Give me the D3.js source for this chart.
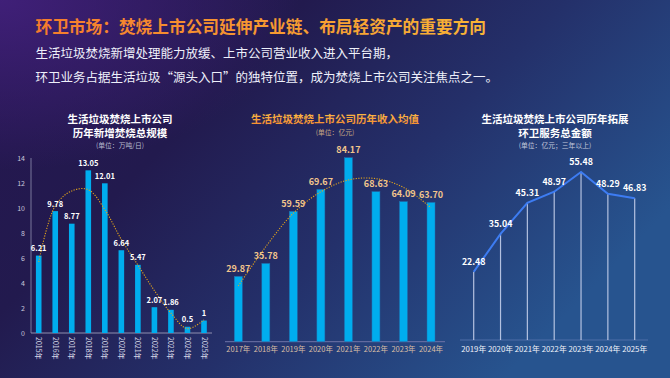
<!DOCTYPE html>
<html><head><meta charset="utf-8">
<script src="https://cdn.jsdelivr.net/npm/d3@7"></script>
<style>html,body{margin:0;padding:0;background:#221a4e;}svg{display:block;}</style>
</head><body>
<svg id="c" width="670" height="378"></svg>
<script>
// ---- data ----
const headerTitle = "环卫市场：焚烧上市公司延伸产业链、布局轻资产的重要方向";
const headerLines = ["生活垃圾焚烧新增处理能力放缓、上市公司营业收入进入平台期，",
  "环卫业务占据生活垃圾“源头入口”的独特位置，成为焚烧上市公司关注焦点之一。"];

const leftTitle = ["生活垃圾焚烧上市公司", "历年新增焚烧总规模"];
const leftUnit = "(单位：万吨/日)";
const leftYears = ["2015年","2016年","2017年","2018年","2019年","2020年","2021年","2022年","2023年","2024年","2025年"];
const leftValues = [6.21, 9.78, 8.77, 13.05, 12.01, 6.64, 5.47, 2.07, 1.86, 0.5, 1];
const leftLabels = ["6.21","9.78","8.77","13.05","12.01","6.64","5.47","2.07","1.86","0.5","1"];
const leftTrend = [5.7, 10.2, 11.4, 11.5, 9.9, 7.5, 5.45, 3.4, 1.6, 0.35, 1.05];
const leftTicks = [0, 2, 4, 6, 8, 10, 12, 14];

const midTitle = "生活垃圾焚烧上市公司历年收入均值";
const midUnit = "(单位：亿元)";
const midYears = ["2017年","2018年","2019年","2020年","2021年","2022年","2023年","2024年"];
const midValues = [29.87, 35.78, 59.59, 69.67, 84.17, 68.63, 64.09, 63.70];
const midLabels = ["29.87","35.78","59.59","69.67","84.17","68.63","64.09","63.70"];
const midTrend = [25.5, 43.5, 58.8, 68.6, 74.0, 74.6, 70.6, 61.2];

const rightTitle = ["生活垃圾焚烧上市公司历年拓展", "环卫服务总金额"];
const rightUnit = "(单位：亿元；三年以上)";
const rightYears = ["2019年","2020年","2021年","2022年","2023年","2024年","2025年"];
const rightValues = [22.48, 35.04, 45.31, 48.97, 55.48, 48.29, 46.83];
const rightLabels = ["22.48","35.04","45.31","48.97","55.48","48.29","46.83"];

// ---- drawing ----
const FONT = "'Noto Sans CJK SC','Noto Sans',sans-serif";
const svg = d3.select("#c");
const defs = svg.append("defs");

const bg = defs.append("linearGradient").attr("id","bg").attr("x1","0").attr("y1","0").attr("x2","1").attr("y2","0.55");
bg.append("stop").attr("offset","0").attr("stop-color","#261650");
bg.append("stop").attr("offset","0.35").attr("stop-color","#221a4e");
bg.append("stop").attr("offset","0.65").attr("stop-color","#24306a");
bg.append("stop").attr("offset","1").attr("stop-color","#27548f");
const rg = defs.append("radialGradient").attr("id","rg").attr("cx","0").attr("cy","0").attr("r","0.45");
rg.append("stop").attr("offset","0").attr("stop-color","#41207a").attr("stop-opacity",0.95);
rg.append("stop").attr("offset","1").attr("stop-color","#41207a").attr("stop-opacity",0);
const tg = defs.append("linearGradient").attr("id","tg").attr("x1","0").attr("y1","0").attr("x2","1").attr("y2","0");
tg.append("stop").attr("offset","0").attr("stop-color","#f57b2c");
tg.append("stop").attr("offset","1").attr("stop-color","#f8b536");
const mg = defs.append("linearGradient").attr("id","mg").attr("x1","0").attr("y1","0").attr("x2","0").attr("y2","1");
mg.append("stop").attr("offset","0").attr("stop-color","#fbc44a");
mg.append("stop").attr("offset","1").attr("stop-color","#f58a30");

svg.append("rect").attr("width",670).attr("height",378).attr("fill","url(#bg)");
svg.append("rect").attr("width",670).attr("height",378).attr("fill","url(#rg)");

// header
svg.append("text").attr("x",35.5).attr("y",33).attr("font-family",FONT).attr("font-size",16.7)
  .attr("font-weight","bold").attr("fill","url(#tg)").text(headerTitle);
svg.selectAll("text.hl").data(headerLines).join("text").attr("class","hl")
  .attr("x",35.5).attr("y",(d,i)=>58+i*24).attr("font-family",FONT).attr("font-size",12.5)
  .attr("fill","#eef0fa").text(d=>d);

function titleBlock(lines, cx, y0, fill, unit, unitY, unitFill){
  svg.append("g").selectAll("text").data(lines).join("text")
    .attr("x",cx).attr("y",(d,i)=>y0+i*14.5).attr("text-anchor","middle")
    .attr("font-family",FONT).attr("font-size",10.5).attr("font-weight","bold")
    .attr("fill",fill).text(d=>d);
  svg.append("text").attr("x",cx).attr("y",unitY).attr("text-anchor","middle")
    .attr("font-family",FONT).attr("font-size",6.8).attr("fill",unitFill).text(unit);
}

// ---- left chart ----
titleBlock(leftTitle, 120, 122.5, "#ffffff", leftUnit, 147.5, "#b9b9cf");
const lx = d3.scalePoint().domain(leftYears).range([38.7, 204]);
const ly = d3.scaleLinear().domain([0,14]).range([333, 158.5]);
const gL = svg.append("g");
gL.append("line").attr("x1",31).attr("x2",31).attr("y1",158).attr("y2",333).attr("stroke","#8f8fb0").attr("stroke-width",0.8);
gL.append("line").attr("x1",31).attr("x2",212).attr("y1",333).attr("y2",333).attr("stroke","#8f8fb0").attr("stroke-width",1);
gL.selectAll("text.yt").data(leftTicks).join("text").attr("class","yt")
  .attr("x",25).attr("y",d=>ly(d)+2.5).attr("text-anchor","end")
  .attr("font-family",FONT).attr("font-size",7).attr("fill","#c8c8dc").text(d=>d);
gL.selectAll("rect").data(leftValues).join("rect")
  .attr("x",(d,i)=>lx(leftYears[i])-2.8).attr("width",5.6)
  .attr("y",d=>ly(d)).attr("height",d=>333-ly(d)).attr("fill","#00adee");
gL.append("path").datum(leftTrend)
  .attr("d", d3.line().x((d,i)=>lx(leftYears[i])).y(d=>ly(d)).curve(d3.curveCatmullRom))
  .attr("fill","none").attr("stroke","#e2a41c").attr("stroke-width",1.1).attr("stroke-dasharray","1.2,1.4");
gL.selectAll("text.vl").data(leftValues).join("text").attr("class","vl")
  .attr("x",(d,i)=>lx(leftYears[i])).attr("y",d=>ly(d)-4.5).attr("text-anchor","middle")
  .attr("font-family",FONT).attr("font-size",7.5).attr("font-weight","bold").attr("fill","#ffffff")
  .text((d,i)=>leftLabels[i]);
gL.selectAll("text.xl").data(leftYears).join("text").attr("class","xl")
  .attr("transform",d=>`translate(${lx(d)-2.5},${337}) rotate(90)`)
  .attr("font-family",FONT).attr("font-size",7).attr("fill","#d8d8e8").text(d=>d);

// ---- middle chart ----
titleBlock([midTitle], 335, 122.5, "url(#mg)", midUnit, 134.5, "#c9a884");
const mx = d3.scalePoint().domain(midYears).range([238.3, 431]);
const my = d3.scaleLinear().domain([0,100]).range([341.7, 341.7-218.6]);
const gM = svg.append("g");
gM.append("line").attr("x1",225).attr("x2",445).attr("y1",341.7).attr("y2",341.7).attr("stroke","#6f74a8").attr("stroke-width",1);
gM.selectAll("rect").data(midValues).join("rect")
  .attr("x",(d,i)=>mx(midYears[i])-4).attr("width",8)
  .attr("y",d=>my(d)).attr("height",d=>341.7-my(d)).attr("fill","#00adee")
  .attr("stroke","#1f6fb0").attr("stroke-width",0.5);
gM.append("path").datum(midTrend)
  .attr("d", d3.line().x((d,i)=>mx(midYears[i])).y(d=>my(d)).curve(d3.curveCatmullRom))
  .attr("fill","none").attr("stroke","#e2a41c").attr("stroke-width",1.1).attr("stroke-dasharray","1.2,1.4");
gM.selectAll("text.vl").data(midValues).join("text").attr("class","vl")
  .attr("x",(d,i)=>mx(midYears[i])).attr("y",d=>my(d)-4.5).attr("text-anchor","middle")
  .attr("font-family",FONT).attr("font-size",9).attr("font-weight","bold").attr("fill","#f2c58c")
  .text((d,i)=>midLabels[i]);
gM.selectAll("text.xl").data(midYears).join("text").attr("class","xl")
  .attr("x",d=>mx(d)).attr("y",352).attr("text-anchor","middle")
  .attr("font-family",FONT).attr("font-size",7.5).attr("fill","#d9bfa6").text(d=>d);

// ---- right chart ----
titleBlock(rightTitle, 555, 122.5, "#ffffff", rightUnit, 147.5, "#c2c8dc");
const rx = d3.scalePoint().domain(rightYears).range([473.7, 634.7]);
const ry = d3.scaleLinear().domain([0,55.48]).range([340, 172]);
const gR = svg.append("g");
gR.append("line").attr("x1",460).attr("x2",648).attr("y1",340).attr("y2",340).attr("stroke","#4f6ea8").attr("stroke-width",1);
gR.selectAll("line.v").data(rightValues).join("line").attr("class","v")
  .attr("x1",(d,i)=>rx(rightYears[i])).attr("x2",(d,i)=>rx(rightYears[i]))
  .attr("y1",d=>ry(d)).attr("y2",340).attr("stroke","#cdd6f0").attr("stroke-opacity",0.85).attr("stroke-width",1.2);
gR.append("path").datum(rightValues)
  .attr("d", d3.line().x((d,i)=>rx(rightYears[i])).y(d=>ry(d)))
  .attr("fill","none").attr("stroke","#3d7cf2").attr("stroke-width",2);
gR.selectAll("text.vl").data(rightValues).join("text").attr("class","vl")
  .attr("x",(d,i)=>rx(rightYears[i])).attr("y",d=>ry(d)-7).attr("text-anchor","middle")
  .attr("font-family",FONT).attr("font-size",8.8).attr("font-weight","bold").attr("fill","#ffffff")
  .text((d,i)=>rightLabels[i]);
gR.selectAll("text.xl").data(rightYears).join("text").attr("class","xl")
  .attr("x",d=>rx(d)).attr("y",352).attr("text-anchor","middle")
  .attr("font-family",FONT).attr("font-size",7.8).attr("fill","#f0f2fa").text(d=>d);
</script>
</body></html>
